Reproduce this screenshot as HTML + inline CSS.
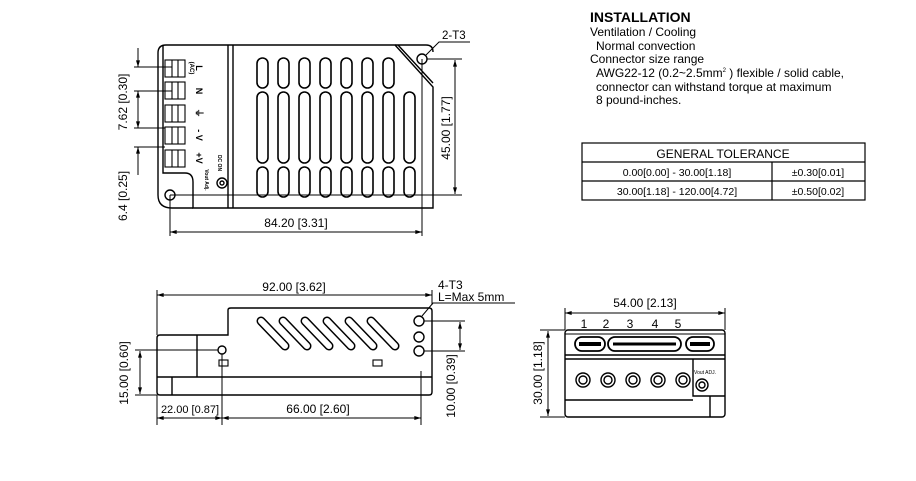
<!DOCTYPE html>
<html><head><meta charset="utf-8"><style>
html,body{margin:0;padding:0;background:#fff;}
svg{display:block;font-family:"Liberation Sans",sans-serif;}
</style></head><body>
<svg width="916" height="481" viewBox="0 0 916 481" xmlns="http://www.w3.org/2000/svg">
<defs>
<marker id="a" viewBox="0 0 10 6" refX="10" refY="3" markerWidth="8" markerHeight="4" orient="auto-start-reverse"><path d="M0,0L10,3L0,6z" fill="#000"/></marker>
</defs>
<g fill="none" stroke="#000" stroke-width="1.4">
<!-- TOP VIEW -->
<path d="M166,45 H395 L433,87 V208 H193 V182 Q193,173 185,173 H163 V45"/>
<path d="M166,45 Q158,45 158,53 V195 Q158,208 172,208 H193"/>
<path d="M395,45 H426 Q433,45 433,52"/>
<line x1="398" y1="45" x2="433" y2="83"/>
<line x1="228" y1="45" x2="228" y2="208"/>
<line x1="233" y1="45" x2="233" y2="208"/>
<g stroke-width="1.1">
<rect x="165" y="60" width="20" height="17"/><line x1="172" y1="60" x2="172" y2="77"/><line x1="178" y1="60" x2="178" y2="77"/>
<rect x="165" y="82" width="20" height="17"/><line x1="172" y1="82" x2="172" y2="99"/><line x1="178" y1="82" x2="178" y2="99"/>
<rect x="165" y="105" width="20" height="17"/><line x1="172" y1="105" x2="172" y2="122"/><line x1="178" y1="105" x2="178" y2="122"/>
<rect x="165" y="127" width="20" height="17"/><line x1="172" y1="127" x2="172" y2="144"/><line x1="178" y1="127" x2="178" y2="144"/>
<rect x="165" y="150" width="20" height="17"/><line x1="172" y1="150" x2="172" y2="167"/><line x1="178" y1="150" x2="178" y2="167"/>
</g>
<g stroke-width="1.6">
<rect x="257" y="58" width="11" height="30" rx="5.5"/><rect x="278" y="58" width="11" height="30" rx="5.5"/><rect x="299" y="58" width="11" height="30" rx="5.5"/><rect x="320" y="58" width="11" height="30" rx="5.5"/><rect x="341" y="58" width="11" height="30" rx="5.5"/><rect x="362" y="58" width="11" height="30" rx="5.5"/><rect x="383" y="58" width="11" height="30" rx="5.5"/>
<rect x="257" y="92" width="11" height="71" rx="5.5"/><rect x="278" y="92" width="11" height="71" rx="5.5"/><rect x="299" y="92" width="11" height="71" rx="5.5"/><rect x="320" y="92" width="11" height="71" rx="5.5"/><rect x="341" y="92" width="11" height="71" rx="5.5"/><rect x="362" y="92" width="11" height="71" rx="5.5"/><rect x="383" y="92" width="11" height="71" rx="5.5"/><rect x="404" y="92" width="11" height="71" rx="5.5"/>
<rect x="257" y="167" width="11" height="30" rx="5.5"/><rect x="278" y="167" width="11" height="30" rx="5.5"/><rect x="299" y="167" width="11" height="30" rx="5.5"/><rect x="320" y="167" width="11" height="30" rx="5.5"/><rect x="341" y="167" width="11" height="30" rx="5.5"/><rect x="362" y="167" width="11" height="30" rx="5.5"/><rect x="383" y="167" width="11" height="30" rx="5.5"/><rect x="404" y="167" width="11" height="30" rx="5.5"/>
</g>
<circle cx="422" cy="59" r="5"/><circle cx="170" cy="195" r="5"/>
<circle cx="222" cy="183" r="5"/><circle cx="222" cy="183" r="2"/>
<!-- top dims -->
<line x1="170" y1="195" x2="170" y2="236" stroke-width="1"/>
<line x1="422" y1="59" x2="422" y2="236" stroke-width="1"/>
<line x1="170" y1="232" x2="422" y2="232" stroke-width="1" marker-start="url(#a)" marker-end="url(#a)"/>
<line x1="427" y1="59" x2="462" y2="59" stroke-width="1"/>
<line x1="170" y1="195" x2="462" y2="195" stroke-width="1"/>
<line x1="455" y1="60" x2="455" y2="194" stroke-width="1" marker-start="url(#a)" marker-end="url(#a)"/>
<path d="M426,55 L439,42 H470" stroke-width="1"/>
<g stroke-width="1">
<line x1="134" y1="67" x2="172" y2="67"/><line x1="134" y1="91" x2="172" y2="91"/>
<line x1="134" y1="128" x2="165" y2="128"/><line x1="134" y1="147" x2="165" y2="147"/>
<line x1="138" y1="48" x2="138" y2="67" marker-end="url(#a)"/>
<line x1="138" y1="110" x2="138" y2="91" marker-end="url(#a)"/>
<line x1="138" y1="110" x2="138" y2="128" marker-end="url(#a)"/>
<line x1="138" y1="175" x2="138" y2="147" marker-end="url(#a)"/>
</g>
<!-- SIDE VIEW -->
<path d="M160,335 H228 V310 Q228,308 231,308 H429 Q432,308 432,311 V392 Q432,395 429,395 H160 Q157,395 157,392 V338 Q157,335 160,335 Z"/>
<line x1="157" y1="377" x2="432" y2="377"/>
<line x1="197" y1="335" x2="197" y2="377"/>
<line x1="172" y1="377" x2="172" y2="395"/>
<circle cx="222" cy="350" r="4"/>
<rect x="219" y="360" width="9" height="6" stroke-width="1.1"/><rect x="373" y="360" width="9" height="6" stroke-width="1.1"/>
<g stroke-width="1.6">
<path d="M261,321 L285,346" stroke-width="9" stroke-linecap="round"/>
<path d="M283,321 L307,346" stroke-width="9" stroke-linecap="round"/>
<path d="M305,321 L329,346" stroke-width="9" stroke-linecap="round"/>
<path d="M327,321 L351,346" stroke-width="9" stroke-linecap="round"/>
<path d="M349,321 L373,346" stroke-width="9" stroke-linecap="round"/>
<path d="M371,321 L395,346" stroke-width="9" stroke-linecap="round"/>
</g>
<g stroke="#fff" stroke-width="6" stroke-linecap="round">
<path d="M261,321 L285,346"/><path d="M283,321 L307,346"/><path d="M305,321 L329,346"/><path d="M327,321 L351,346"/><path d="M349,321 L373,346"/><path d="M371,321 L395,346"/>
</g>
<circle cx="419" cy="321" r="5"/><circle cx="419" cy="337" r="5"/><circle cx="419" cy="351" r="5"/>
<g stroke-width="1">
<line x1="157" y1="290" x2="157" y2="335"/><line x1="432" y1="290" x2="432" y2="305"/>
<line x1="157" y1="295" x2="432" y2="295" marker-start="url(#a)" marker-end="url(#a)"/>
<path d="M422,316 L433,303 H515"/>
<line x1="424" y1="321" x2="465" y2="321"/><line x1="424" y1="351" x2="465" y2="351"/>
<line x1="460" y1="322" x2="460" y2="350" marker-start="url(#a)" marker-end="url(#a)"/>
<line x1="421" y1="371" x2="421" y2="425"/>
<line x1="135" y1="350" x2="218" y2="350"/><line x1="135" y1="395" x2="157" y2="395"/>
<line x1="140" y1="351" x2="140" y2="394" marker-start="url(#a)" marker-end="url(#a)"/>
<line x1="157" y1="395" x2="157" y2="425"/><line x1="222" y1="354" x2="222" y2="425"/>
<line x1="157" y1="418" x2="222" y2="418" marker-start="url(#a)" marker-end="url(#a)"/>
<line x1="222" y1="418" x2="421" y2="418" marker-start="url(#a)" marker-end="url(#a)"/>
</g>
<!-- END VIEW -->
<rect x="565" y="330" width="160" height="87" rx="3"/>
<line x1="565" y1="334" x2="725" y2="334" stroke-width="1"/>
<line x1="565" y1="355" x2="725" y2="355"/><line x1="565" y1="359" x2="725" y2="359"/>
<g stroke-width="1.8">
<rect x="575" y="337" width="30" height="14" rx="7"/><rect x="608" y="337" width="73" height="14" rx="7"/><rect x="686" y="337" width="28" height="14" rx="7"/>
</g>
<line x1="579" y1="344" x2="601" y2="344" stroke-width="4"/><line x1="613" y1="344" x2="676" y2="344" stroke-width="3"/><line x1="690" y1="344" x2="710" y2="344" stroke-width="4"/>
<g stroke-width="1.4">
<circle cx="583" cy="380" r="7"/><circle cx="608" cy="380" r="7"/><circle cx="633" cy="380" r="7"/><circle cx="658" cy="380" r="7"/><circle cx="683" cy="380" r="7"/>
<circle cx="583" cy="380" r="4"/><circle cx="608" cy="380" r="4"/><circle cx="633" cy="380" r="4"/><circle cx="658" cy="380" r="4"/><circle cx="683" cy="380" r="4"/>
</g>
<path d="M693,359 V396 H725"/><line x1="565" y1="400" x2="693" y2="400"/>
<line x1="710" y1="396" x2="710" y2="417"/>
<circle cx="702" cy="385" r="6"/><circle cx="702" cy="385" r="3"/>
<g stroke-width="1">
<line x1="565" y1="308" x2="565" y2="330"/><line x1="725" y1="308" x2="725" y2="330"/>
<line x1="565" y1="313" x2="725" y2="313" marker-start="url(#a)" marker-end="url(#a)"/>
<line x1="540" y1="330" x2="565" y2="330"/><line x1="540" y1="417" x2="565" y2="417"/>
<line x1="548" y1="331" x2="548" y2="416" marker-start="url(#a)" marker-end="url(#a)"/>
</g>
<!-- table -->
<rect x="582" y="143" width="283" height="57" stroke-width="1.2"/>
<line x1="582" y1="162" x2="865" y2="162" stroke-width="1.2"/>
<line x1="582" y1="181" x2="865" y2="181" stroke-width="1.2"/>
<line x1="772" y1="162" x2="772" y2="200" stroke-width="1.2"/>
</g>
<g font-size="12" fill="#000">
<text x="296" y="227" text-anchor="middle">84.20 [3.31]</text>
<text x="442" y="39" font-size="11.5">2-T3</text>
<text transform="translate(450,128) rotate(-90)" text-anchor="middle">45.00 [1.77]</text>
<text transform="translate(127,102) rotate(-90)" text-anchor="middle">7.62 [0.30]</text>
<text transform="translate(127,196) rotate(-90)" text-anchor="middle">6.4 [0.25]</text>
<g font-size="9" font-weight="bold">
<text transform="translate(196,68) rotate(90)" text-anchor="middle">L</text>
<text transform="translate(196,91) rotate(90)" text-anchor="middle">N</text>
<text transform="translate(196,113) rotate(90)" text-anchor="middle">⏚</text>
<text transform="translate(196,135) rotate(90)" text-anchor="middle">- V</text>
<text transform="translate(196,158) rotate(90)" text-anchor="middle">+V</text>
<text transform="translate(190,68) rotate(90)" text-anchor="middle" font-size="6">(AC)</text>
<text transform="translate(218,163) rotate(90)" text-anchor="middle" font-size="5">DC ON</text>
<text transform="translate(205,180) rotate(90)" text-anchor="middle" font-size="5">Vout Adj.</text>
</g>
<text x="294" y="291" text-anchor="middle">92.00 [3.62]</text>
<text x="438" y="289">4-T3</text>
<text x="438" y="301">L=Max 5mm</text>
<text x="190" y="413" text-anchor="middle" font-size="11">22.00 [0.87]</text>
<text x="318" y="413" text-anchor="middle">66.00 [2.60]</text>
<text transform="translate(128,373) rotate(-90)" text-anchor="middle">15.00 [0.60]</text>
<text transform="translate(455,386) rotate(-90)" text-anchor="middle">10.00 [0.39]</text>
<text x="645" y="307" text-anchor="middle">54.00 [2.13]</text>
<text x="584" y="328" text-anchor="middle">1</text><text x="606" y="328" text-anchor="middle">2</text><text x="630" y="328" text-anchor="middle">3</text><text x="655" y="328" text-anchor="middle">4</text><text x="678" y="328" text-anchor="middle">5</text>
<text transform="translate(542,373) rotate(-90)" text-anchor="middle">30.00 [1.18]</text>
<text x="705" y="374" font-size="5" text-anchor="middle">Vout ADJ.</text>
<text x="590" y="22" font-size="14" font-weight="bold">INSTALLATION</text>
<text x="590" y="36">Ventilation / Cooling</text>
<text x="596" y="50">Normal convection</text>
<text x="590" y="63">Connector size range</text>
<text x="596" y="77">AWG22-12 (0.2~2.5mm<tspan font-size="6" dy="-5">2</tspan><tspan dy="5"> ) flexible / solid cable,</tspan></text>
<text x="596" y="91">connector can withstand torque at maximum</text>
<text x="596" y="104">8 pound-inches.</text>
<text x="723" y="158" text-anchor="middle">GENERAL TOLERANCE</text>
<text x="677" y="176" text-anchor="middle" font-size="10.5">0.00[0.00] - 30.00[1.18]</text>
<text x="818" y="176" text-anchor="middle" font-size="10.5">±0.30[0.01]</text>
<text x="677" y="195" text-anchor="middle" font-size="10.5">30.00[1.18] - 120.00[4.72]</text>
<text x="818" y="195" text-anchor="middle" font-size="10.5">±0.50[0.02]</text>
</g>
</svg>
</body></html>
